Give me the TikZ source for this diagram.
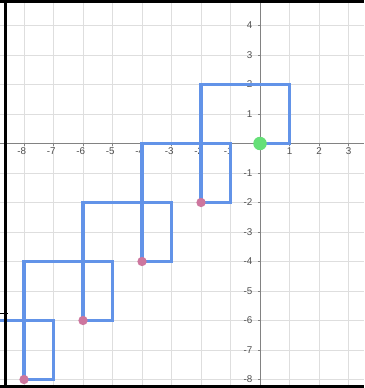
\documentclass[tikz,border=0pt]{standalone}
\usepackage{fontspec}
\setmainfont{Liberation Sans}
\definecolor{pathblue}{RGB}{98,147,232}
\definecolor{dotgreen}{RGB}{102,224,120}
\definecolor{dotpink}{RGB}{205,118,158}
\definecolor{gridgray}{RGB}{222,222,222}
\definecolor{axisgray}{RGB}{130,130,130}
\definecolor{labelgray}{RGB}{80,80,80}
\tikzset{
  gridline/.style={draw=gridgray, line width=0.8pt},
  axisline/.style={draw=axisgray, line width=1pt},
  xlab/.style={text=labelgray, font=\fontsize{9.5}{10}\selectfont, inner sep=0pt, anchor=north},
  ylab/.style={text=labelgray, font=\fontsize{9.5}{10}\selectfont, inner sep=0pt, anchor=east},
  trail/.style={draw=pathblue, line width=3.6pt, line join=miter},
  pinkdot/.style={circle, fill=dotpink, inner sep=0pt, minimum size=9pt},
  greendot/.style={circle, fill=dotgreen, inner sep=0pt, minimum size=13pt},
  frameline/.style={draw=black, line width=2.8pt}
}
\begin{document}
\begin{tikzpicture}[x=1cm,y=1cm]
\useasboundingbox (-8.814,-8.288) rectangle (3.525,4.864);
\fill[white] (-8.814,-8.288) rectangle (3.525,4.864);
% grid
\foreach \i in {-8,...,3} \draw[gridline] (\i,-8.288) -- (\i,4.864);
\foreach \j in {-8,...,4} \draw[gridline] (-8.814,\j) -- (3.525,\j);
% axes
\draw[axisline] (-8.814,0) -- (3.525,0);
\draw[axisline] (0,-8.288) -- (0,4.864);
% ticks
\foreach \i in {-8,...,-1,1,2,3} \draw[axisline, line width=0.6pt] (\i,0) -- (\i,-0.08);
\foreach \j in {-8,...,-1,1,2,3,4} \draw[axisline, line width=0.6pt] (0,\j) -- (-0.08,\j);
% x labels
\foreach \i in {-8,...,-1} \node[xlab] (xl\i) at (\i-0.08,-0.13) {-\the\numexpr-\i\relax};
\foreach \i in {1,2,3} \node[xlab] (xl\i) at (\i,-0.13) {\i};
% y labels
\foreach \j in {1,2,3,4} \node[ylab] (yl\j) at (-0.25,\j) {\j};
\foreach \j in {-8,...,-1} \node[ylab] (yl\j) at (-0.25,\j) {-\the\numexpr-\j\relax};
% blue path
\draw[trail] (-8.9,-6) -- (-7,-6) -- (-7,-8) -- (-8,-8) -- (-8,-4) -- (-5,-4) -- (-5,-6) -- (-6,-6)
  -- (-6,-2) -- (-3,-2) -- (-3,-4) -- (-4,-4) -- (-4,0) -- (-1,0) -- (-1,-2) -- (-2,-2)
  -- (-2,2) -- (1,2) -- (1,0) -- (0,0);
% dots
\node[pinkdot] (p1) at (-2,-2) {};
\node[pinkdot] (p2) at (-4,-4) {};
\node[pinkdot] (p3) at (-6,-6) {};
\node[pinkdot] (p4) at (-8,-8) {};
\node[greendot] (g0) at (0,0) {};
% frame
\draw[frameline] (-8.814,4.82) -- (3.525,4.82);
\draw[frameline] (-8.64,4.864) -- (-8.64,-8.288);
\draw[frameline] (-8.814,-8.25) -- (3.525,-8.25);
\draw[draw=black, line width=1pt] (-8.814,-5.75) -- (-8.55,-5.75);
\end{tikzpicture}
\end{document}
